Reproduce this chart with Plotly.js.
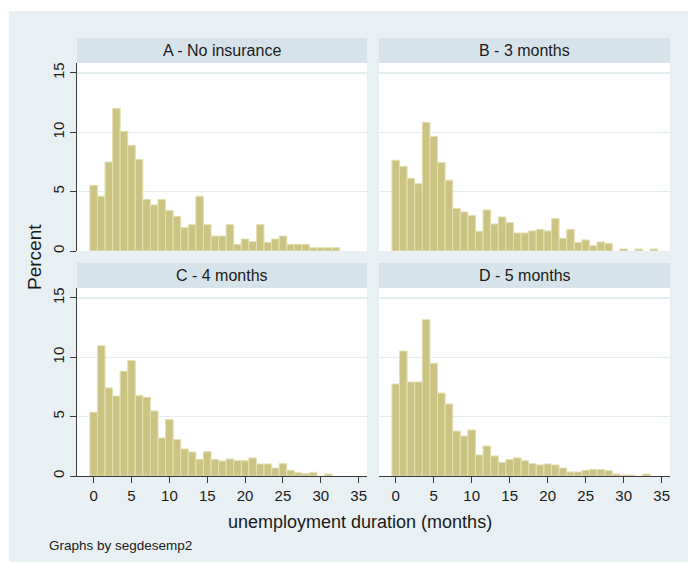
<!DOCTYPE html>
<html>
<head>
<meta charset="utf-8">
<script src="https://cdn.plot.ly/plotly-3.0.1.min.js"></script>
<style>html,body{margin:0;padding:0;background:#fff}#chart{width:688px;height:568px}</style>
</head>
<body>
<div id="chart"></div>
<script>
// ---- data (percent of spells per 1-month bin, bars centred on integer months) ----
const months = [0,1,2,3,4,5,6,7,8,9,10,11,12,13,14,15,16,17,18,19,20,21,22,23,24,25,26,27,28,29,30,31,32,33,34];
const panelTitles = ["A - No insurance", "B - 3 months", "C - 4 months", "D - 5 months"];
const noInsurance = [5.53,4.61,7.5,12.02,10.08,8.9,7.72,4.35,3.88,4.35,3.4,2.92,1.97,2.22,4.61,2.22,1.26,1.26,2.22,0.56,1.01,0.79,2.22,0.73,1.01,1.26,0.56,0.56,0.56,0.28,0.28,0.28,0.28,0,0];
const threeMonths = [7.64,7.13,6.12,5.67,10.84,9.66,7.44,5.96,3.6,3.29,3.0,1.66,3.46,2.28,2.87,2.39,1.52,1.52,1.69,1.83,1.69,2.72,1.07,1.83,0.73,0.93,0.45,0.76,0.65,0,0.17,0,0.17,0,0.17];
const fourMonths = [5.37,10.98,7.42,6.74,8.82,9.72,6.77,6.63,5.48,3.2,4.75,3.06,2.28,2.02,1.4,2.05,1.4,1.26,1.43,1.29,1.29,1.52,1.01,1.01,0.67,1.04,0.48,0.28,0.2,0.31,0,0.17,0,0,0];
const fiveMonths = [7.75,10.53,7.92,7.92,13.17,9.49,6.99,6.07,3.79,3.37,3.88,1.77,2.53,1.69,1.15,1.38,1.52,1.29,1.04,0.93,1.01,0.93,0.67,0.34,0.34,0.48,0.56,0.56,0.45,0.17,0.08,0.08,0,0.17,0];
const xTicks = [0,5,10,15,20,25,30,35];
const yTicks = [0,5,10,15];
const xTitle = "unemployment duration (months)";
const yTitle = "Percent";
const note = "Graphs by segdesemp2";

// ---- layout helpers (pixel -> paper fraction, margins are zero) ----
const W = 688, H = 568;
const fx = p => p / W;
const fy = p => 1 - p / H;

const FONT = '"Liberation Sans", Arial, Helvetica, sans-serif';
const TXT = '#1a1a1a';
const BG = '#e8f0f3';
const STRIP = '#d7e3ea';
const GRID = '#e4edf0';
const AX = '#3a3a3a';
const FILL = '#cbc382';
const EDGE = '#e4dfb3';

const cols = [[77, 367], [379, 670]];
const rows = [[63, 251], [288, 476]]; // plot area top/bottom (px)
const strips = [[38, 63], [263, 288]];
const xRange = [-2.2, 36.1];
const yRange = [0, 15.84];

const series = [noInsurance, threeMonths, fourMonths, fiveMonths];
const data = series.map((vals, i) => ({
  type: 'bar',
  x: months,
  y: vals.map(v => (v === 0 ? null : v)), // empty bins draw nothing
  width: 1,
  marker: {color: FILL, line: {color: EDGE, width: 1}},
  xaxis: i === 0 ? 'x' : 'x' + (i + 1),
  yaxis: i === 0 ? 'y' : 'y' + (i + 1),
  hoverinfo: 'x+y',
  showlegend: false
}));

const layout = {
  width: W, height: H,
  margin: {l: 0, r: 0, t: 0, b: 0, pad: 0},
  paper_bgcolor: BG,
  plot_bgcolor: '#ffffff',
  font: {family: FONT, color: TXT, size: 15},
  bargap: 0,
  showlegend: false,
  shapes: [],
  annotations: []
};

for (let i = 0; i < 4; i++) {
  const c = cols[i % 2], r = rows[Math.floor(i / 2)], s = strips[Math.floor(i / 2)];
  const xa = i === 0 ? 'xaxis' : 'xaxis' + (i + 1);
  const ya = i === 0 ? 'yaxis' : 'yaxis' + (i + 1);
  const isLeft = i % 2 === 0, isBottom = i >= 2;
  layout[xa] = {
    domain: [fx(c[0]), fx(c[1])],
    anchor: i === 0 ? 'y' : 'y' + (i + 1),
    range: xRange, fixedrange: true,
    showgrid: false, zeroline: false,
    showline: isBottom, linecolor: AX, linewidth: 1,
    ticks: isBottom ? 'outside' : '', ticklen: 6, tickcolor: AX, tickwidth: 1,
    tickmode: 'array', tickvals: xTicks, ticktext: xTicks.map(String),
    showticklabels: isBottom,
    tickfont: {family: FONT, size: 15, color: TXT}
  };
  layout[ya] = {
    domain: [fy(r[1]), fy(r[0])],
    anchor: i === 0 ? 'x' : 'x' + (i + 1),
    range: yRange, fixedrange: true,
    showgrid: true, gridcolor: GRID, gridwidth: 1.2,
    zeroline: false,
    showline: isLeft, linecolor: AX, linewidth: 1,
    ticks: isLeft ? 'outside' : '', ticklen: 6, tickcolor: AX, tickwidth: 1,
    tickmode: 'array', tickvals: yTicks, ticktext: yTicks.map(String),
    showticklabels: isLeft, tickangle: -90,
    tickfont: {family: FONT, size: 15, color: TXT}
  };
  layout.shapes.push({
    type: 'rect', xref: 'paper', yref: 'paper', layer: 'above',
    x0: fx(c[0]), x1: fx(c[1]), y0: fy(s[1]), y1: fy(s[0]),
    fillcolor: STRIP, line: {width: 0}
  });
  layout.annotations.push({
    xref: 'paper', yref: 'paper', x: fx((c[0] + c[1]) / 2), y: fy((s[0] + s[1]) / 2),
    xanchor: 'center', yanchor: 'middle', showarrow: false,
    text: panelTitles[i], font: {family: FONT, size: 16, color: TXT}
  });
}

// white outer margins (top/left/bottom) around the graph region
layout.shapes.push(
  {type: 'rect', xref: 'paper', yref: 'paper', layer: 'above', x0: 0, x1: 1, y0: fy(11), y1: 1, fillcolor: '#ffffff', line: {width: 0}},
  {type: 'rect', xref: 'paper', yref: 'paper', layer: 'above', x0: 0, x1: fx(9), y0: 0, y1: 1, fillcolor: '#ffffff', line: {width: 0}},
  {type: 'rect', xref: 'paper', yref: 'paper', layer: 'above', x0: 0, x1: 1, y0: 0, y1: fy(562), fillcolor: '#ffffff', line: {width: 0}}
);

layout.annotations.push(
  {xref: 'paper', yref: 'paper', x: fx(360), y: fy(522), xanchor: 'center', yanchor: 'middle',
   showarrow: false, text: xTitle, font: {family: FONT, size: 18, color: TXT}},
  {xref: 'paper', yref: 'paper', x: fx(34), y: fy(257), xanchor: 'center', yanchor: 'middle',
   showarrow: false, textangle: -90, text: yTitle, font: {family: FONT, size: 19, color: TXT}},
  {xref: 'paper', yref: 'paper', x: fx(47), y: fy(545), xanchor: 'left', yanchor: 'middle',
   showarrow: false, text: note, font: {family: FONT, size: 13.5, color: TXT}}
);

Plotly.newPlot('chart', data, layout, {staticPlot: true, displayModeBar: false});
</script>
</body>
</html>
